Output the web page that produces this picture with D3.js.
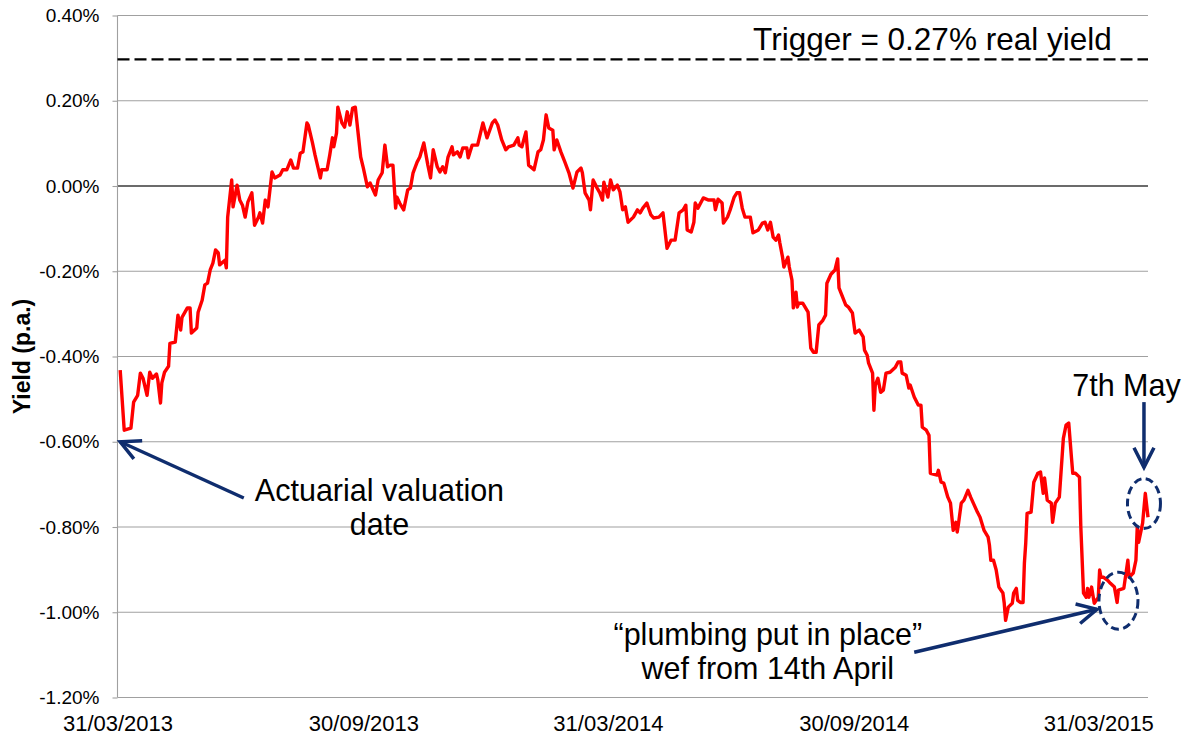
<!DOCTYPE html>
<html><head><meta charset="utf-8">
<script src="https://cdn.jsdelivr.net/npm/d3@7"></script>
<style>
body{margin:0;background:#fff;}
text{font-family:"Liberation Sans",Arial,Helvetica,sans-serif;}
</style>
</head><body>
<svg id="chart" width="1186" height="737"></svg>
<script>
// ---------------- DATA ----------------
const dates = [
"2013-04-02","2013-04-05","2013-04-10","2013-04-12","2013-04-15","2013-04-17","2013-04-19","2013-04-22","2013-04-24","2013-04-26",
"2013-04-29","2013-04-30","2013-05-02","2013-05-03","2013-05-05","2013-05-08","2013-05-09","2013-05-13","2013-05-15","2013-05-17",
"2013-05-18","2013-05-22","2013-05-24","2013-05-25","2013-05-29","2013-05-30","2013-06-02","2013-06-04","2013-06-06","2013-06-08",
"2013-06-10","2013-06-12","2013-06-14","2013-06-15","2013-06-19","2013-06-20","2013-06-21","2013-06-24","2013-06-25","2013-06-28",
"2013-06-30","2013-07-02","2013-07-04","2013-07-06","2013-07-09","2013-07-11","2013-07-14","2013-07-15","2013-07-17","2013-07-19",
"2013-07-21","2013-07-24","2013-07-26","2013-07-30","2013-08-01","2013-08-04","2013-08-07","2013-08-09","2013-08-12","2013-08-14",
"2013-08-16","2013-08-19","2013-08-20","2013-08-23","2013-08-25","2013-08-29","2013-08-30","2013-09-03","2013-09-05","2013-09-07",
"2013-09-08","2013-09-10","2013-09-11","2013-09-14","2013-09-16","2013-09-18","2013-09-20","2013-09-22","2013-09-24","2013-09-28",
"2013-09-30","2013-10-03","2013-10-05","2013-10-09","2013-10-11","2013-10-14","2013-10-16","2013-10-18","2013-10-20","2013-10-22",
"2013-10-24","2013-10-25","2013-10-27","2013-10-30","2013-11-02","2013-11-04","2013-11-06","2013-11-09","2013-11-11","2013-11-14",
"2013-11-17","2013-11-19","2013-11-21","2013-11-24","2013-11-26","2013-11-28","2013-11-30","2013-12-02","2013-12-05","2013-12-06",
"2013-12-09","2013-12-11","2013-12-13","2013-12-16","2013-12-17","2013-12-20","2013-12-24","2013-12-28","2013-12-31","2014-01-04",
"2014-01-06","2014-01-08","2014-01-11","2014-01-14","2014-01-16","2014-01-20","2014-01-23","2014-01-24","2014-01-26","2014-01-29",
"2014-01-31","2014-02-04","2014-02-07","2014-02-09","2014-02-11","2014-02-13","2014-02-15","2014-02-18","2014-02-19","2014-02-21",
"2014-02-24","2014-02-27","2014-03-02","2014-03-05","2014-03-08","2014-03-11","2014-03-12","2014-03-14","2014-03-17","2014-03-18",
"2014-03-20","2014-03-23","2014-03-25","2014-03-27","2014-03-28","2014-03-31","2014-04-02","2014-04-04","2014-04-07","2014-04-09",
"2014-04-11","2014-04-13","2014-04-15","2014-04-19","2014-04-22","2014-04-24","2014-04-26","2014-04-29","2014-05-02","2014-05-04",
"2014-05-08","2014-05-11","2014-05-14","2014-05-17","2014-05-20","2014-05-23","2014-05-26","2014-05-28","2014-05-29","2014-06-01",
"2014-06-03","2014-06-04","2014-06-06","2014-06-10","2014-06-14","2014-06-18","2014-06-19","2014-06-21","2014-06-24","2014-06-25",
"2014-06-28","2014-06-30","2014-07-03","2014-07-05","2014-07-07","2014-07-09","2014-07-11","2014-07-15","2014-07-17","2014-07-21",
"2014-07-24","2014-07-26","2014-07-28","2014-07-30","2014-08-01","2014-08-03","2014-08-05","2014-08-06","2014-08-08","2014-08-09",
"2014-08-12","2014-08-13","2014-08-15","2014-08-16","2014-08-18","2014-08-19","2014-08-20","2014-08-23","2014-08-27","2014-08-29",
"2014-08-31","2014-09-02","2014-09-04","2014-09-07","2014-09-09","2014-09-10","2014-09-13","2014-09-16","2014-09-18","2014-09-19",
"2014-09-24","2014-09-26","2014-09-29","2014-10-01","2014-10-04","2014-10-07","2014-10-08","2014-10-10","2014-10-11","2014-10-14",
"2014-10-15","2014-10-16","2014-10-18","2014-10-20","2014-10-22","2014-10-24","2014-10-27","2014-10-31","2014-11-02","2014-11-04",
"2014-11-05","2014-11-08","2014-11-10","2014-11-11","2014-11-14","2014-11-17","2014-11-19","2014-11-20","2014-11-23","2014-11-25",
"2014-11-26","2014-12-01","2014-12-02","2014-12-04","2014-12-06","2014-12-09","2014-12-11","2014-12-13","2014-12-15","2014-12-16",
"2014-12-17","2014-12-19","2014-12-21","2014-12-24","2014-12-26","2014-12-28","2014-12-31","2015-01-02","2015-01-05","2015-01-08",
"2015-01-09","2015-01-10","2015-01-12","2015-01-14","2015-01-16","2015-01-19","2015-01-20","2015-01-21","2015-01-23","2015-01-26",
"2015-01-27","2015-01-29","2015-01-30","2015-02-01","2015-02-03","2015-02-04","2015-02-05","2015-02-06","2015-02-09","2015-02-11",
"2015-02-14","2015-02-16","2015-02-18","2015-02-19","2015-02-21","2015-02-24","2015-02-25","2015-02-27","2015-03-02","2015-03-05",
"2015-03-07","2015-03-09","2015-03-11","2015-03-12","2015-03-14","2015-03-17","2015-03-18","2015-03-20","2015-03-22","2015-03-23",
"2015-03-24","2015-03-26","2015-03-28","2015-03-31","2015-04-01","2015-04-02","2015-04-04","2015-04-07","2015-04-09","2015-04-12",
"2015-04-14","2015-04-15","2015-04-19","2015-04-22","2015-04-23","2015-04-26","2015-04-28","2015-04-29","2015-04-30","2015-05-03","2015-05-05","2015-05-07"
];
const yields = [
-0.432,-0.573,-0.568,-0.507,-0.491,-0.439,-0.451,-0.491,-0.437,-0.451,
-0.441,-0.455,-0.509,-0.462,-0.437,-0.423,-0.369,-0.366,-0.303,-0.338,
-0.308,-0.286,-0.286,-0.345,-0.333,-0.296,-0.268,-0.232,-0.228,-0.197,
-0.181,-0.150,-0.157,-0.185,-0.174,-0.192,-0.073,0.014,-0.049,0.002,
-0.033,-0.045,-0.073,-0.038,-0.016,-0.092,-0.073,-0.063,-0.087,-0.033,
-0.049,0.033,0.019,0.026,0.038,0.038,0.061,0.042,0.042,0.077,
0.080,0.148,0.143,0.103,0.073,0.019,0.038,0.038,0.073,0.113,
0.092,0.124,0.185,0.148,0.138,0.174,0.143,0.183,0.185,0.068,
0.042,-0.002,0.007,-0.021,0.014,0.031,0.096,0.045,0.049,0.049,
-0.052,-0.026,-0.040,-0.056,-0.009,-0.005,0.031,0.056,0.068,0.101,
0.049,0.019,0.085,0.045,0.033,0.045,0.031,0.068,0.092,0.073,
0.080,0.068,0.089,0.089,0.066,0.096,0.096,0.148,0.113,0.148,
0.155,0.143,0.108,0.085,0.092,0.096,0.113,0.096,0.092,0.127,
0.049,0.038,0.080,0.085,0.108,0.167,0.136,0.131,0.085,0.108,
0.080,0.056,0.031,-0.005,0.033,0.042,0.031,-0.016,-0.033,-0.056,
0.014,-0.005,-0.016,-0.033,0.009,-0.026,0.014,-0.009,0.002,-0.014,
-0.056,-0.049,-0.085,-0.073,-0.056,-0.063,-0.052,-0.040,-0.068,-0.075,
-0.073,-0.063,-0.146,-0.127,-0.127,-0.063,-0.056,-0.045,-0.103,-0.108,
-0.085,-0.040,-0.052,-0.028,-0.033,-0.033,-0.056,-0.031,-0.040,-0.087,
-0.073,-0.056,-0.026,-0.016,-0.016,-0.052,-0.073,-0.073,-0.110,-0.103,
-0.087,-0.085,-0.103,-0.085,-0.120,-0.127,-0.115,-0.134,-0.167,-0.190,
-0.167,-0.190,-0.221,-0.286,-0.249,-0.284,-0.275,-0.275,-0.296,-0.380,
-0.390,-0.390,-0.326,-0.315,-0.303,-0.228,-0.207,-0.197,-0.171,-0.239,
-0.279,-0.284,-0.298,-0.345,-0.338,-0.354,-0.385,-0.397,-0.415,-0.439,
-0.526,-0.467,-0.451,-0.484,-0.479,-0.439,-0.437,-0.425,-0.413,-0.413,
-0.439,-0.444,-0.474,-0.467,-0.495,-0.514,-0.514,-0.566,-0.573,-0.585,
-0.674,-0.678,-0.667,-0.695,-0.697,-0.730,-0.744,-0.808,-0.789,-0.812,
-0.791,-0.744,-0.737,-0.714,-0.730,-0.744,-0.765,-0.777,-0.808,-0.824,
-0.843,-0.878,-0.878,-0.901,-0.941,-0.955,-0.979,-1.019,-0.988,-0.979,
-0.955,-0.944,-0.972,-0.977,-0.977,-0.885,-0.838,-0.768,-0.765,-0.695,
-0.674,-0.671,-0.721,-0.685,-0.737,-0.744,-0.789,-0.744,-0.730,-0.592,
-0.561,-0.556,-0.636,-0.674,-0.674,-0.683,-0.800,-0.955,-0.965,-0.944,
-0.965,-0.941,-0.979,-0.965,-0.901,-0.918,-0.918,-0.925,-0.932,-0.941,
-0.977,-0.948,-0.944,-0.878,-0.918,-0.908,-0.878,-0.800,-0.836,-0.791,-0.721,-0.777
];
const yTicks = [0.40, 0.20, 0.00, -0.20, -0.40, -0.60, -0.80, -1.00, -1.20];
const xTickDates = ["2013-03-31","2013-09-30","2014-03-31","2014-09-30","2015-03-31"];
const xDomain = ["2013-03-31","2015-05-07"];
const triggerValue = 0.297;
const triggerLabel = "Trigger = 0.27% real yield";
const yAxisTitle = "Yield (p.a.)";
// annotation texts (anchored in data units)
const noteTexts = [
  {lines:["Actuarial valuation","date"], date:"2013-10-12", value:-0.742},
  {lines:["\u201Cplumbing put in place\u201D","wef from 14th April"], date:"2014-07-28", value:-1.080},
  {lines:["7th May"], date:"2015-04-21", value:-0.493}
];
const noteArrows = [
  {from:["2013-07-03",-0.732], to:["2013-04-02",-0.600]},
  {from:["2014-11-14",-1.094], to:["2015-03-30",-0.993]},
  {from:["2015-05-04",-0.507], to:["2015-05-04",-0.660]}
];
const noteEllipses = [
  {date:"2015-05-04", value:-0.745, rx:16.5, ry:25},
  {date:"2015-04-15", value:-0.973, rx:19.5, ry:28.5}
];

// ---------------- CHART ----------------
const svg = d3.select("#chart");
const parse = d3.utcParse("%Y-%m-%d");
const plot = {left:117.5, right:1148, top:15.5, bottom:697.5};
const x = d3.scaleUtc().domain(xDomain.map(parse)).range([plot.left, plot.right]);
const y = d3.scaleLinear().domain([-1.2, 0.4]).range([plot.bottom, plot.top]);

const series = d3.zip(dates, yields).map(([d, v]) => ({date: parse(d), value: v}));

svg.append("rect").attr("width", 1186).attr("height", 737).attr("fill", "#fff");

// gridlines
svg.append("g").selectAll("line").data(yTicks).join("line")
  .attr("x1", plot.left).attr("x2", plot.right)
  .attr("y1", d => y(d)).attr("y2", d => y(d))
  .attr("stroke", d => d === 0 ? "#3a3a3a" : "#a0a0a0")
  .attr("stroke-width", d => d === 0 ? 1.3 : 1.1);

// y axis line
svg.append("line").attr("x1", plot.left).attr("x2", plot.left)
  .attr("y1", plot.top).attr("y2", plot.bottom)
  .attr("stroke", "#a0a0a0").attr("stroke-width", 1.1);

// trigger line
svg.append("line").attr("x1", plot.left).attr("x2", plot.right)
  .attr("y1", y(triggerValue)).attr("y2", y(triggerValue))
  .attr("stroke", "#000").attr("stroke-width", 2.2).attr("stroke-dasharray", "12,5");

// data line
svg.append("path").datum(series)
  .attr("fill", "none").attr("stroke", "#ff0000").attr("stroke-width", 3.4)
  .attr("stroke-linejoin", "round")
  .attr("d", d3.line().x(d => x(d.date)).y(d => y(d.value)));

// y axis
const yAxis = svg.append("g").attr("transform", `translate(${plot.left},0)`)
  .call(d3.axisLeft(y).tickValues(yTicks).tickSize(5).tickPadding(13)
        .tickFormat(d => d.toFixed(2) + "%"));
yAxis.select(".domain").remove();
yAxis.selectAll(".tick line").attr("stroke", "#a0a0a0").attr("stroke-width", 1.1);
yAxis.selectAll("text").attr("font-size", 19).attr("fill", "#000")
  .attr("font-family", '"Liberation Sans",Arial,sans-serif');

// x axis
const xAxis = svg.append("g").attr("transform", `translate(0,${plot.bottom})`)
  .call(d3.axisBottom(x).tickValues(xTickDates.map(parse)).tickSize(0).tickPadding(18)
        .tickFormat(d3.utcFormat("%d/%m/%Y")));
xAxis.select(".domain").remove();
xAxis.selectAll("text").attr("font-size", 22).attr("fill", "#000")
  .attr("font-family", '"Liberation Sans",Arial,sans-serif');

// y title
svg.append("text")
  .attr("transform", `translate(30,${(plot.top + plot.bottom) / 2}) rotate(-90)`)
  .attr("text-anchor", "middle").attr("font-weight", "bold").attr("font-size", 23)
  .attr("fill", "#000").text(yAxisTitle);

// trigger label
svg.append("text").attr("x", x(parse("2015-04-10"))).attr("y", y(0.319))
  .attr("text-anchor", "end").attr("font-size", 31.5).attr("fill", "#000")
  .text(triggerLabel);

// annotation arrows
const navy = "#0f2d6e";
const arrowG = svg.append("g");
noteArrows.forEach(a => {
  const x1 = x(parse(a.from[0])), y1 = y(a.from[1]);
  const x2 = x(parse(a.to[0])), y2 = y(a.to[1]);
  const ang = Math.atan2(y1 - y2, x1 - x2);
  const L = 22, h = 27 * Math.PI / 180;
  arrowG.append("line").attr("x1", x1).attr("y1", y1).attr("x2", x2).attr("y2", y2)
    .attr("stroke", navy).attr("stroke-width", 3.5);
  arrowG.append("path")
    .attr("d", `M${x2 + L * Math.cos(ang + h)},${y2 + L * Math.sin(ang + h)}L${x2},${y2}L${x2 + L * Math.cos(ang - h)},${y2 + L * Math.sin(ang - h)}`)
    .attr("fill", "none").attr("stroke", navy).attr("stroke-width", 3.5)
    .attr("stroke-linejoin", "miter");
});

// annotation ellipses
svg.append("g").selectAll("ellipse").data(noteEllipses).join("ellipse")
  .attr("cx", d => x(parse(d.date))).attr("cy", d => y(d.value))
  .attr("rx", d => d.rx).attr("ry", d => d.ry)
  .attr("fill", "none").attr("stroke", navy).attr("stroke-width", 3)
  .attr("stroke-dasharray", "8,4.5");

// annotation texts (one text element per line, spaced so boxes do not overlap)
const noteFont = 30.5, noteLead = 34.3;
noteTexts.forEach(n => {
  const base = y(n.value) - (n.lines.length > 1 ? 1.6 : 0);
  n.lines.forEach((ln, i) => {
    svg.append("text").attr("text-anchor", "middle").attr("font-size", noteFont).attr("fill", "#000")
      .attr("x", x(parse(n.date))).attr("y", base + i * noteLead).text(ln);
  });
});
</script>
</body></html>
